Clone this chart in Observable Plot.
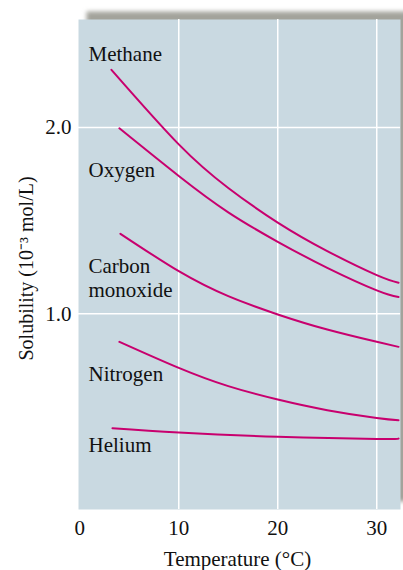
<!DOCTYPE html>
<html><head><meta charset="utf-8">
<script src="https://cdn.jsdelivr.net/npm/d3@7"></script>
<script src="https://cdn.jsdelivr.net/npm/@observablehq/plot@0.6"></script>
<style>body{margin:0;background:#fff}</style>
</head><body><div id="chart"></div>
<script>
// Data (temperature °C, solubility 10^-3 mol/L)
const methaneT = [3.2, 10, 15, 20, 25, 30, 32.2];
const methaneV = [2.31, 1.91, 1.676, 1.49, 1.337, 1.208, 1.167];
const oxygenT = [4.0, 10, 15, 20, 25, 30, 32.2];
const oxygenV = [1.996, 1.74, 1.545, 1.387, 1.247, 1.126, 1.09];
const coT = [4.1, 10, 15, 20, 25, 30, 32.2];
const coV = [1.43, 1.229, 1.095, 0.997, 0.916, 0.85, 0.823];
const nitrogenT = [4.0, 10, 15, 20, 25, 30, 32.2];
const nitrogenV = [0.85, 0.71, 0.612, 0.54, 0.483, 0.441, 0.429];
const heliumT = [3.3, 10, 20, 30, 32.2];
const heliumV = [0.386, 0.363, 0.34, 0.329, 0.331];

const gasNames = ["Methane", "Oxygen", "Carbon\nmonoxide", "Nitrogen", "Helium"];
const labelT = [0.88, 0.88, 0.88, 0.88, 0.88];
const labelV = [2.355, 1.732, 1.093, 0.642, 0.256];

const xTicks = [0, 10, 20, 30];
const yTicks = [1, 2];

const seriesT = [methaneT, oxygenT, coT, nitrogenT, heliumT];
const seriesV = [methaneV, oxygenV, coV, nitrogenV, heliumV];
const rows = [];
seriesT.forEach((ts, i) => ts.forEach((t, j) => rows.push({gas: gasNames[i], t, v: seriesV[i][j]})));
const labels = gasNames.map((g, i) => ({g, t: labelT[i], v: labelV[i]}));

const LINE = "#c8006e";
const BG = "#c9d9e1";
const FS = 21;

const chart = Plot.plot({
  width: 403,
  height: 570,
  marginLeft: 78,
  marginRight: 3,
  marginTop: 19,
  marginBottom: 61,
  style: {fontFamily: "'Liberation Serif', 'Times New Roman', serif", fontSize: FS + "px", color: "#111", background: "#fff"},
  x: {domain: [-0.13, 32.4]},
  y: {domain: [-0.05, 2.58]},
  marks: [
    Plot.frame({fill: "#a3a39b", dx: 8, dy: -8, stroke: null}),
    Plot.frame({fill: BG, stroke: null}),
    Plot.gridX(xTicks.filter(d => d > 0), {stroke: "white", strokeOpacity: 1, strokeWidth: 1.5}),
    Plot.gridY(yTicks, {stroke: "white", strokeOpacity: 1, strokeWidth: 1.5}),
    Plot.axisX({ticks: xTicks, tickSize: 0, tickPadding: 11, label: null, tickFormat: d => String(d), fontSize: FS}),
    Plot.axisY({ticks: yTicks, tickSize: 0, tickPadding: 7, label: null, tickFormat: d => d.toFixed(1), fontSize: FS}),
    Plot.line(rows, {x: "t", y: "v", z: "gas", stroke: LINE, strokeWidth: 2, curve: "natural"}),
    Plot.text(labels, {x: "t", y: "v", text: "g", textAnchor: "start", lineAnchor: "bottom", lineHeight: 1.1, fontSize: FS, fill: "#111"}),
    Plot.text(["Temperature (°C)"], {frameAnchor: "bottom", textAnchor: "middle", dy: 49.6, lineAnchor: "middle", fontSize: FS, fill: "#111", dx: -2}),
    Plot.text(["Solubility (10⁻³ mol/L)"], {frameAnchor: "left", textAnchor: "middle", rotate: -90, dx: -52, dy: 4, lineAnchor: "middle", fontSize: 20, fill: "#111"})
  ]
});
// soft blurred shadow behind the plot frame
const ns = "http://www.w3.org/2000/svg";
const defs = document.createElementNS(ns, "defs");
const filt = document.createElementNS(ns, "filter");
filt.setAttribute("id", "shadowBlur");
filt.setAttribute("x", "-10%"); filt.setAttribute("y", "-10%");
filt.setAttribute("width", "120%"); filt.setAttribute("height", "120%");
const blur = document.createElementNS(ns, "feGaussianBlur");
blur.setAttribute("stdDeviation", "2");
filt.appendChild(blur);
defs.appendChild(filt);
chart.insertBefore(defs, chart.firstChild);
const shadow = chart.querySelector('g[aria-label="frame"]') || chart.querySelector('rect');
if (shadow) shadow.setAttribute("filter", "url(#shadowBlur)");
document.getElementById("chart").appendChild(chart);
</script>
</body></html>
